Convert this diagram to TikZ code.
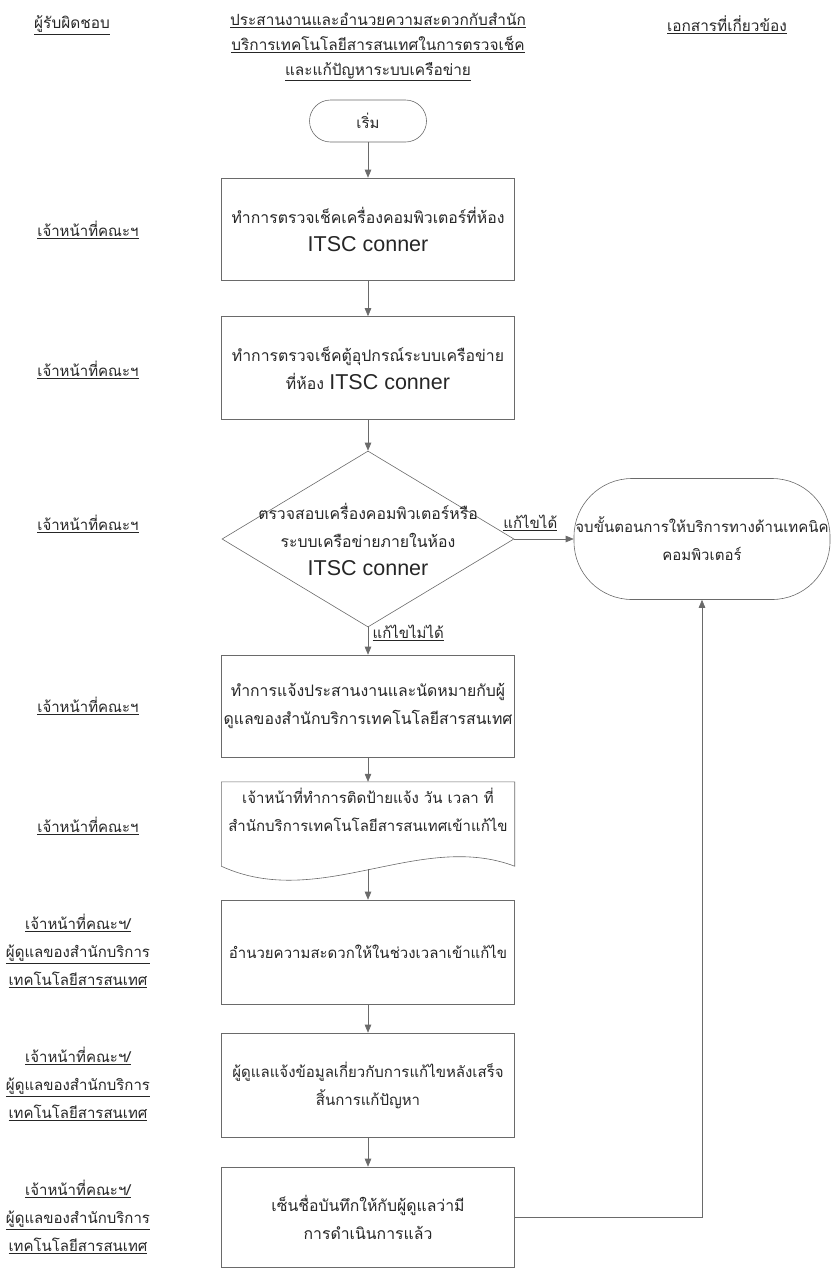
\documentclass[tikz,border=0pt]{standalone}
\usepackage{fontspec}
\setmainfont[Script=Thai]{Loma}
\newfontfamily\latinfont{Liberation Sans}
\usetikzlibrary{arrows.meta,shapes.geometric}
\definecolor{flowLine}{HTML}{6A6A6A}
\definecolor{flowText}{HTML}{262626}
\newcommand{\itsc}{{\latinfont\fontsize{21.5}{28}\selectfont ITSC conner}}
\newcommand{\uln}[1]{\underline{#1}}
\newcommand{\jointStaff}{\uln{เจ้าหน้าที่คณะฯ/}\\\uln{ผู้ดูแลของสำนักบริการ}\\\uln{เทคโนโลยีสารสนเทศ}}
\tikzset{
    shapeLine/.style={draw=flowLine, line width=0.6pt},
    flow/.style={shapeLine, -{Triangle[length=8pt,width=6.5pt]}},
    procbox/.style={shapeLine, minimum width=293pt, minimum height=103pt, align=center, inner sep=2pt, font=\fontsize{15.8}{28}\selectfont},
    smallText/.style={font=\fontsize{15}{28}\selectfont},
    termbox/.style={shapeLine, align=center, inner sep=0pt},
    role/.style={align=center},
    hdr/.style={align=center, font=\fontsize{15.4}{25}\selectfont}
}

\begin{document}
\begin{tikzpicture}[x=1pt, y=-1pt, font=\fontsize{15}{28}\selectfont, text=flowText]
            \useasboundingbox (0,0) rectangle (834,1269);
            \node[hdr] (hdrOwner) at (72,25) {\uln{ผู้รับผิดชอบ}};
            \node[hdr] (hdrTitle) at (378,47) {\uln{ประสานงานและอำนวยความสะดวกกับสำนัก}\\\uln{บริการเทคโนโลยีสารสนเทศในการตรวจเช็ค}\\\uln{และแก้ปัญหาระบบเครือข่าย}};
            \node[hdr] (hdrDocs) at (727,25) {\uln{เอกสารที่เกี่ยวข้อง}};

            \node[termbox, minimum width=117pt, minimum height=42pt, rounded corners=21pt] (start) at (368,121) {เริ่ม};
            \node[procbox, minimum height=102pt] (chkPc) at (368,229) {ทำการตรวจเช็คเครื่องคอมพิวเตอร์ที่ห้อง\\\itsc};
            \node[procbox] (chkNet) at (368,368) {ทำการตรวจเช็คตู้อุปกรณ์ระบบเครือข่าย\\ที่ห้อง \itsc};
            \node[shapeLine, diamond, minimum width=292pt, minimum height=176pt, inner sep=0pt,
                label={[align=center, font=\fontsize{15.8}{28}\selectfont]center:ตรวจสอบเครื่องคอมพิวเตอร์หรือ\\ระบบเครือข่ายภายในห้อง\\\itsc}] (chkRoom) at (368,539) {};
            \node[termbox, minimum width=256pt, minimum height=121pt, rounded corners=58pt] (finish) at (702,539) {จบขั้นตอนการให้บริการทางด้านเทคนิค\\คอมพิวเตอร์};
            \node[procbox, minimum height=102pt] (notify) at (368,706) {ทำการแจ้งประสานงานและนัดหมายกับผู้\\ดูแลของสำนักบริการเทคโนโลยีสารสนเทศ};
            \node[smallText, align=center, minimum width=293pt, minimum height=56pt, inner sep=0pt] (post) at (368,810) {เจ้าหน้าที่ทำการติดป้ายแจ้ง วัน เวลา ที่\\สำนักบริการเทคโนโลยีสารสนเทศเข้าแก้ไข};
            \draw[shapeLine] (post.north west) -- (post.north east) -- ([yshift=-28pt]post.south east)
                .. controls +(-95,-36) and +(98,45) .. ([yshift=-28pt]post.south west) -- cycle;
            \coordinate (postWave) at (368,869);
            \node[procbox, smallText, minimum height=104pt] (assist) at (368,952) {อำนวยความสะดวกให้ในช่วงเวลาเข้าแก้ไข};
            \node[procbox, smallText, minimum height=104pt] (report) at (368,1085) {ผู้ดูแลแจ้งข้อมูลเกี่ยวกับการแก้ไขหลังเสร็จ\\สิ้นการแก้ปัญหา};
            \node[procbox, minimum height=100pt] (sign) at (368,1217) {เซ็นชื่อบันทึกให้กับผู้ดูแลว่ามี\\การดำเนินการแล้ว};

            \node[role] (roleA) at (88,230) {\uln{เจ้าหน้าที่คณะฯ}};
            \node[role] (roleB) at (88,370) {\uln{เจ้าหน้าที่คณะฯ}};
            \node[role] (roleC) at (88,524) {\uln{เจ้าหน้าที่คณะฯ}};
            \node[role] (roleD) at (88,706) {\uln{เจ้าหน้าที่คณะฯ}};
            \node[role] (roleE) at (88,826) {\uln{เจ้าหน้าที่คณะฯ}};
            \node[role] (roleF) at (78,951) {\jointStaff};
            \node[role] (roleG) at (78,1084) {\jointStaff};
            \node[role] (roleH) at (78,1217) {\jointStaff};

            \draw[flow] (start) -- (chkPc);
            \draw[flow] (chkPc) -- (chkNet);
            \draw[flow] (chkNet) -- (chkRoom);
            \draw[flow] (chkRoom) -- node[above=5pt, pos=0.27] {\uln{แก้ไขได้}} (finish);
            \draw[flow] (chkRoom) -- node[right=1pt, pos=0.2] {\uln{แก้ไขไม่ได้}} (notify);
            \draw[flow] (notify) -- (post);
            \draw[flow] (postWave) -- (assist);
            \draw[flow] (assist) -- (report);
            \draw[flow] (report) -- (sign);
            \draw[flow] (sign.east) -| (finish.south);
        \end{tikzpicture}
\end{document}
